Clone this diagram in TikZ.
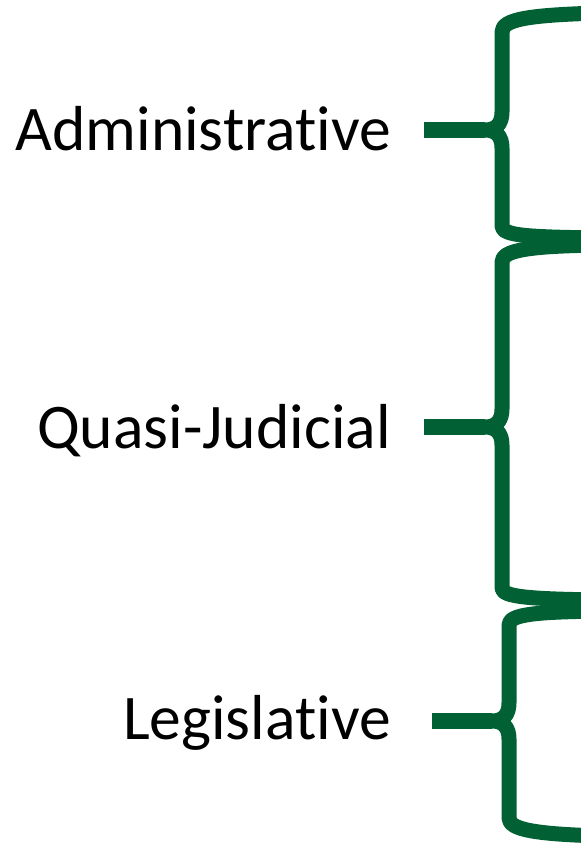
\documentclass[tikz,border=0pt]{standalone}
\usepackage{fontspec}
\setmainfont{Carlito}[Ligatures=NoCommon]
\definecolor{bgreen}{RGB}{2,97,52}
\begin{document}
\begin{tikzpicture}[x=1bp,y=-1bp,
  brace/.style={draw=bgreen, line width=15bp, line join=round},
  stub/.style={draw=bgreen, line width=16bp, line cap=butt},
  lab/.style={anchor=base east, inner sep=0pt, font=\fontsize{63.8}{70}\selectfont}]
\useasboundingbox (0,0) rectangle (581,843);
\clip (0,0) rectangle (581,843);
% labels
\node[lab] (adm) at (391,150) {Administrative};
\node[lab] (qj) at (391,448) {Quasi-Judicial};
\node[lab] (leg) at (391,739) {Legislative};
% brace anchors
\coordinate (t1) at (485,130);
\coordinate (t2) at (485,427);
\coordinate (t3) at (492,721);
% braces
\draw[brace] (600,13) .. controls (530,15) and (502,19) .. (502,32) -- (502,112)
  .. controls (502,124) and (496,130) .. (t1)
  .. controls (496,130) and (502,136) .. (502,148) -- (502,226)
  .. controls (502,236) and (530,237) .. (600,238);
\draw[brace] (600,245) .. controls (530,246) and (502,250) .. (502,262) -- (502,409)
  .. controls (502,421) and (496,427) .. (t2)
  .. controls (496,427) and (502,433) .. (502,445) -- (502,588)
  .. controls (502,597) and (530,599) .. (600,600);
\draw[brace] (600,611) .. controls (537,612) and (509,614) .. (509,625) -- (509,703)
  .. controls (509,715) and (503,721) .. (t3)
  .. controls (503,721) and (509,727) .. (509,739) -- (509,818)
  .. controls (509,830) and (537,834) .. (600,836);
% stubs
\coordinate (s1) at (424,130);
\coordinate (s2) at (424,427);
\coordinate (s3) at (432,721);
\draw[stub] (s1) -- (t1);
\draw[stub] (s2) -- (t2);
\draw[stub] (s3) -- (t3);
\end{tikzpicture}
\end{document}
